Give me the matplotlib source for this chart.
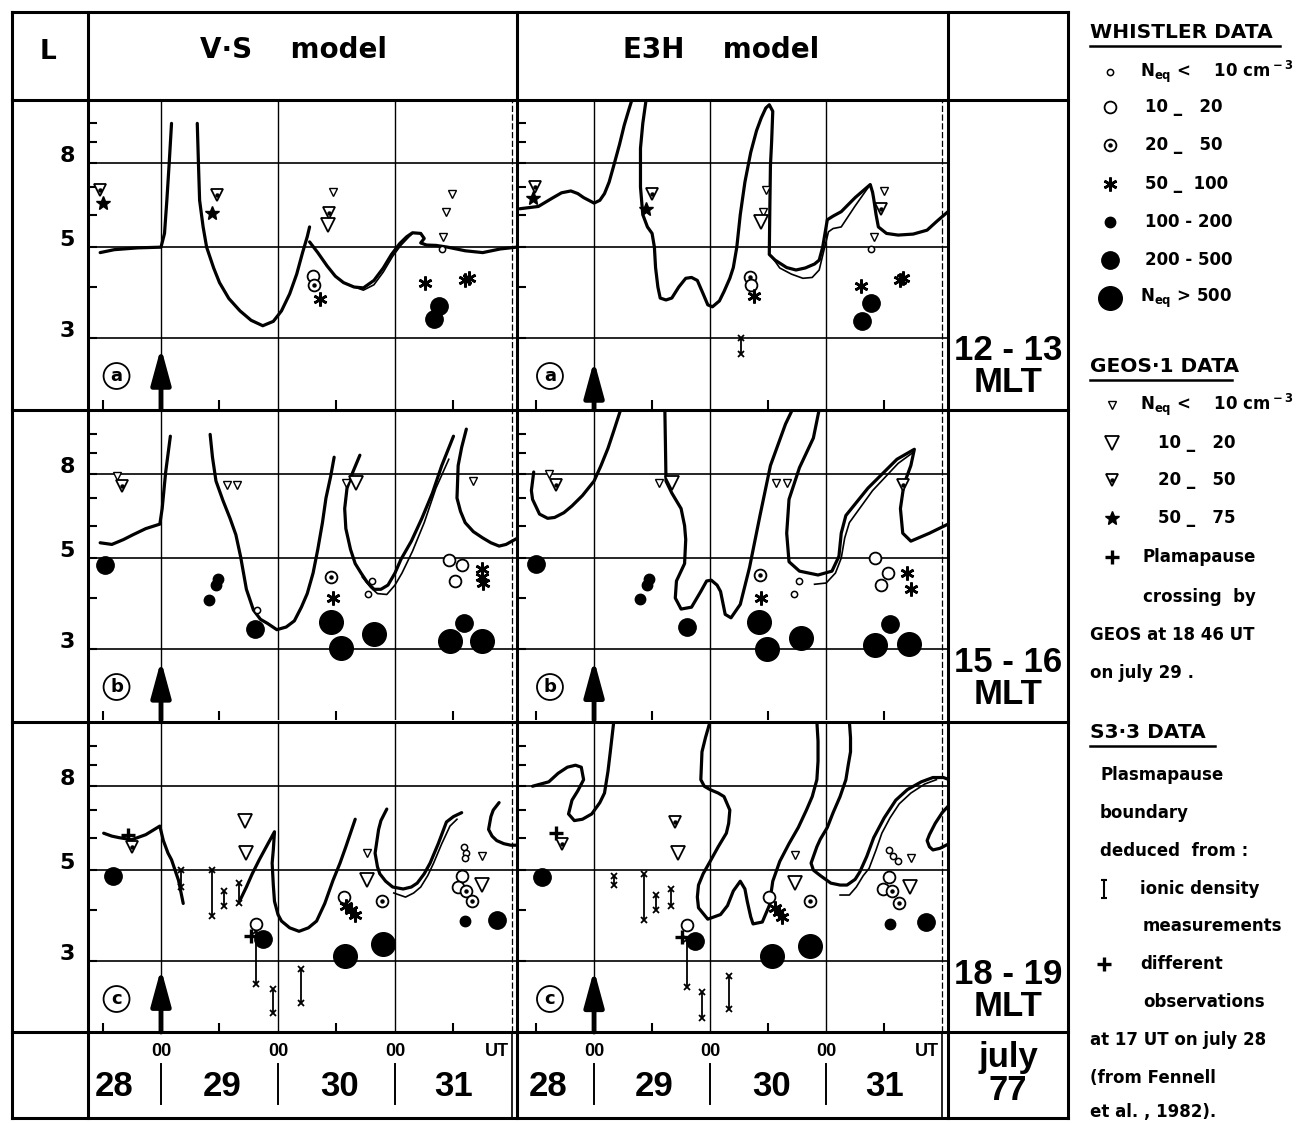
"""Plasmapause position: V-S and E3H models vs whistler, GEOS-1 and S3-3 data, 28-31 July 1977."""

import matplotlib

matplotlib.use("Agg")
import matplotlib.pyplot as plt
from matplotlib.ticker import NullFormatter, NullLocator
from matplotlib.transforms import blended_transform_factory

plt.rcParams["font.family"] = ["DejaVu Sans"]
plt.rcParams["mathtext.fontset"] = "custom"
plt.rcParams["mathtext.rm"] = "DejaVu Sans:bold"
plt.rcParams["mathtext.bf"] = "DejaVu Sans:bold"

# =========================
# axes / labels
# =========================
L_MIN, L_MAX = 2.02, 11.4
L_TICKS = [3, 4, 5, 6, 7, 8, 9, 10]
L_GRID = [3, 5, 8]
L_LABELS = ["8", "5", "3"]
HALF_DAYS = [0.5, 1.5, 2.5, 3.5]
DAY_LINES = [1, 2, 3]
DAY_NAMES = ["28", "29", "30", "31"]
DAY_NAME_POS = [0.6, 1.52, 2.53, 3.5]
MODEL_NAMES = ["V·S    model", "E3H    model"]
MLT_NAMES = ["12 - 13", "15 - 16", "18 - 19"]
ROW_LETTERS = ["a", "b", "c"]

# =========================
# row a : 12-13 MLT
# =========================
VS_A_CURVES = [
    [(0.48, 4.85), (0.6, 4.93), (0.8, 4.98), (1.0, 5.0), (1.03, 5.4), (1.05, 6.5), (1.07, 8.0), (1.09, 10.0)],
    [(1.31, 10.0), (1.32, 8.0), (1.33, 6.5), (1.36, 5.6), (1.39, 5.0), (1.45, 4.45), (1.50, 4.1), (1.58, 3.75),
     (1.675, 3.5), (1.77, 3.32), (1.87, 3.22), (1.96, 3.3), (2.03, 3.5), (2.10, 3.85), (2.16, 4.3), (2.21, 4.85),
     (2.25, 5.3), (2.27, 5.6)],
    [(2.27, 5.15), (2.34, 4.85), (2.42, 4.5), (2.49, 4.25), (2.56, 4.1), (2.65, 4.0), (2.73, 3.98), (2.82, 4.15),
     (2.90, 4.45), (2.97, 4.8), (3.04, 5.1), (3.10, 5.3), (3.15, 5.42), (3.22, 5.4), (3.25, 5.25), (3.22, 5.12),
     (3.27, 5.06), (3.35, 5.05), (3.45, 5.0), (3.6, 4.9), (3.75, 4.85), (3.9, 4.95), (4.04, 5.0)],
]
VS_A_THIN = [
    [(2.60, 4.05), (2.73, 3.93), (2.82, 4.05), (2.90, 4.35), (2.98, 4.75), (3.05, 5.05), (3.12, 5.3), (3.15, 5.4)],
]
VS_A_POINTS = [
    ("g20", 0.48, 6.9), ("g50", 0.50, 6.4), ("g20", 1.48, 6.7), ("g50", 1.44, 6.05),
    ("g0", 2.47, 6.8), ("g20", 2.44, 6.05), ("g10", 2.43, 5.65),
    ("g0", 3.49, 6.75), ("g0", 3.44, 6.1), ("g0", 3.41, 5.3), ("w0", 3.40, 4.95),
    ("w10", 2.30, 4.25), ("w20", 2.31, 4.05), ("w50", 2.36, 3.75),
    ("w50", 3.26, 4.1), ("w50", 3.60, 4.15), ("w50", 3.63, 4.2),
    ("w200", 3.38, 3.6), ("w200", 3.33, 3.35),
]
VS_A_BARS = []

E3_A_CURVES = [
    [(0.36, 6.2), (0.52, 6.28), (0.64, 6.58), (0.72, 6.78), (0.80, 6.85), (0.86, 6.75), (0.91, 6.6), (1.0, 6.4),
     (1.05, 6.5), (1.09, 6.75), (1.13, 7.2), (1.17, 7.9), (1.22, 8.9), (1.26, 9.9), (1.30, 10.8), (1.33, 11.5)],
    [(1.45, 11.5), (1.42, 10.0), (1.40, 8.7), (1.40, 7.0), (1.42, 6.0), (1.46, 5.6), (1.50, 5.4), (1.52, 5.0),
     (1.53, 4.46), (1.55, 4.0), (1.57, 3.76), (1.62, 3.72), (1.67, 3.76), (1.73, 4.0), (1.79, 4.2), (1.84, 4.22),
     (1.89, 4.15), (1.94, 3.85), (1.98, 3.62), (2.02, 3.58), (2.08, 3.7), (2.12, 3.9), (2.17, 4.2), (2.20, 4.46),
     (2.23, 5.0), (2.26, 6.0), (2.30, 7.2), (2.35, 8.5), (2.40, 9.6), (2.44, 10.3), (2.48, 10.9), (2.51, 11.1),
     (2.54, 10.7), (2.53, 9.0), (2.52, 7.9), (2.515, 6.3), (2.51, 4.8), (2.56, 4.65), (2.66, 4.46), (2.74, 4.4),
     (2.82, 4.45), (2.90, 4.55), (2.94, 4.65), (2.97, 5.0), (2.99, 5.4), (3.01, 5.83), (3.06, 5.95), (3.13, 6.1),
     (3.25, 6.6), (3.38, 7.1), (3.40, 6.8), (3.41, 6.55), (3.43, 6.0), (3.45, 5.6), (3.52, 5.4), (3.62, 5.35),
     (3.75, 5.38), (3.87, 5.5), (3.96, 5.8), (4.05, 6.1)],
]
E3_A_THIN = [
    [(2.53, 4.75), (2.60, 4.45), (2.70, 4.3), (2.80, 4.2), (2.88, 4.22), (2.94, 4.4), (2.98, 4.9), (3.02, 5.45),
     (3.06, 5.55), (3.13, 5.6), (3.25, 6.3), (3.38, 7.1)],
]
E3_A_POINTS = [
    ("g20", 0.49, 7.0), ("g50", 0.47, 6.6), ("g20", 1.50, 6.75), ("g50", 1.45, 6.2),
    ("g0", 2.48, 6.9), ("g0", 2.46, 6.1), ("g10", 2.44, 5.75),
    ("w20", 2.34, 4.22), ("w10", 2.35, 4.05), ("w50", 2.38, 3.8),
    ("g0", 3.50, 6.85), ("g20", 3.47, 6.2), ("g0", 3.41, 5.3), ("w0", 3.39, 4.95),
    ("w50", 3.30, 4.02), ("w50", 3.64, 4.15), ("w50", 3.66, 4.2),
    ("w200", 3.39, 3.65), ("w200", 3.31, 3.3),
]
E3_A_BARS = [(2.27, 2.75, 3.0)]

# =========================
# row b : 15-16 MLT
# =========================
VS_B_CURVES = [
    [(0.48, 5.45), (0.58, 5.4), (0.68, 5.55), (0.76, 5.7), (0.87, 5.9), (0.99, 6.05), (1.01, 6.6), (1.04, 8.1),
     (1.08, 9.9)],
    [(1.42, 10.0), (1.44, 8.8), (1.47, 7.7), (1.53, 6.9), (1.59, 6.25), (1.64, 5.7), (1.68, 5.05), (1.73, 4.2),
     (1.79, 3.74), (1.85, 3.55), (1.91, 3.47), (1.99, 3.35), (2.07, 3.4), (2.14, 3.52), (2.20, 3.8), (2.25, 4.1),
     (2.30, 4.6), (2.34, 5.25), (2.38, 6.1), (2.41, 7.0), (2.45, 7.9), (2.48, 8.8)],
    [(2.70, 8.9), (2.64, 8.1), (2.59, 7.4), (2.57, 6.6), (2.58, 5.9), (2.62, 5.25), (2.66, 4.85), (2.71, 4.6),
     (2.76, 4.38), (2.82, 4.2), (2.88, 4.2), (2.94, 4.3), (3.0, 4.6), (3.05, 4.96), (3.14, 5.5), (3.23, 6.25),
     (3.32, 7.2), (3.40, 8.4), (3.50, 9.9)],
    [(3.61, 10.3), (3.57, 9.3), (3.54, 8.4), (3.53, 7.0), (3.56, 6.5), (3.60, 6.1), (3.67, 5.8), (3.75, 5.6),
     (3.82, 5.45), (3.89, 5.35), (3.95, 5.4), (4.0, 5.5), (4.05, 5.6)],
]
VS_B_THIN = [
    [(2.72, 4.5), (2.79, 4.25), (2.85, 4.1), (2.93, 4.08), (3.0, 4.3), (3.06, 4.6), (3.15, 5.2), (3.25, 6.1),
     (3.35, 7.4), (3.46, 8.7)],
]
VS_B_POINTS = [
    ("g0", 0.62, 7.9), ("g20", 0.67, 7.5), ("w200", 0.52, 4.8),
    ("g0", 1.56, 7.55), ("g0", 1.65, 7.55),
    ("w100", 1.49, 4.45), ("w100", 1.47, 4.3), ("w100", 1.41, 3.95),
    ("w0", 1.82, 3.75), ("w200", 1.80, 3.36),
    ("g0", 2.58, 7.6), ("g10", 2.67, 7.6), ("w20", 2.45, 4.5), ("w50", 2.47, 4.0),
    ("w500", 2.45, 3.5), ("w500", 2.54, 3.03), ("w500", 2.82, 3.27),
    ("w0", 2.80, 4.4), ("w0", 2.77, 4.1),
    ("g0", 3.67, 7.7), ("w10", 3.46, 4.95), ("w10", 3.57, 4.8), ("w10", 3.51, 4.4),
    ("w50", 3.74, 4.7), ("w50", 3.745, 4.5), ("w50", 3.75, 4.35),
    ("w200", 3.59, 3.48), ("w500", 3.47, 3.15), ("w500", 3.74, 3.15),
]
VS_B_BARS = []

E3_B_CURVES = [
    [(0.48, 8.1), (0.46, 7.3), (0.47, 6.95), (0.53, 6.4), (0.60, 6.25), (0.66, 6.28), (0.74, 6.45), (0.81, 6.7),
     (0.90, 7.1), (1.0, 7.7), (1.06, 8.4), (1.12, 9.25), (1.17, 10.2), (1.23, 11.5)],
    [(1.61, 11.5), (1.615, 9.5), (1.62, 7.7), (1.67, 7.2), (1.75, 6.6), (1.78, 6.0), (1.79, 5.55), (1.78, 4.85),
     (1.71, 4.4), (1.70, 4.0), (1.75, 3.76), (1.84, 3.8), (1.92, 4.15), (1.97, 4.4), (2.01, 4.42), (2.06, 4.3),
     (2.09, 4.15), (2.13, 3.65), (2.18, 3.58), (2.26, 3.86), (2.34, 4.75), (2.43, 6.35), (2.52, 8.4), (2.65, 10.6),
     (2.71, 11.5)],
    [(2.94, 11.5), (2.89, 9.8), (2.77, 8.3), (2.68, 6.95), (2.66, 5.75), (2.68, 4.9), (2.77, 4.65), (2.93, 4.55),
     (3.05, 4.65), (3.11, 5.05), (3.13, 5.75), (3.17, 6.35), (3.36, 7.4), (3.61, 8.7), (3.76, 9.2), (3.73, 8.4),
     (3.67, 7.55), (3.64, 6.6), (3.66, 5.75), (3.73, 5.5), (3.89, 5.75), (4.05, 6.05)],
]
E3_B_THIN = [
    [(2.90, 4.32), (3.0, 4.35), (3.08, 4.6), (3.13, 5.0), (3.16, 5.6), (3.20, 6.1), (3.40, 7.3), (3.62, 8.5),
     (3.74, 9.0)],
]
E3_B_POINTS = [
    ("g0", 0.61, 8.0), ("g20", 0.67, 7.55), ("w200", 0.50, 4.85),
    ("g0", 1.56, 7.6), ("g10", 1.67, 7.6),
    ("w100", 1.47, 4.45), ("w100", 1.46, 4.3), ("w100", 1.40, 3.98), ("w200", 1.80, 3.4),
    ("g0", 2.57, 7.6), ("g0", 2.66, 7.6), ("w20", 2.43, 4.55), ("w50", 2.44, 4.0),
    ("w500", 2.42, 3.5), ("w500", 2.49, 3.0), ("w500", 2.78, 3.2),
    ("w0", 2.77, 4.4), ("w0", 2.72, 4.1),
    ("g20", 3.66, 7.55), ("w10", 3.42, 5.0), ("w10", 3.53, 4.6), ("w10", 3.47, 4.3),
    ("w50", 3.70, 4.6), ("w50", 3.73, 4.2),
    ("w200", 3.55, 3.45), ("w500", 3.42, 3.08), ("w500", 3.71, 3.1),
]
E3_B_BARS = []

# =========================
# row c : 18-19 MLT
# =========================
VS_C_CURVES = [
    [(0.51, 6.15), (0.58, 6.05), (0.64, 6.0), (0.75, 5.93), (0.87, 6.1), (0.99, 6.4), (1.02, 5.9), (1.06, 5.5),
     (1.09, 5.3), (1.15, 4.72), (1.19, 4.15)],
    [(1.68, 4.25), (1.73, 4.55), (1.78, 4.9), (1.84, 5.3), (1.90, 5.7), (1.97, 6.2), (1.96, 5.6), (1.95, 5.2),
     (1.96, 4.6), (1.97, 4.2), (2.0, 3.9), (2.03, 3.76), (2.10, 3.62), (2.18, 3.55), (2.26, 3.62), (2.33, 3.76),
     (2.40, 4.15), (2.47, 4.72), (2.53, 5.2), (2.58, 5.7), (2.66, 6.65)],
    [(2.93, 7.04), (2.88, 6.6), (2.86, 6.28), (2.83, 5.5), (2.85, 5.1), (2.87, 4.9), (2.92, 4.7), (2.98, 4.55),
     (3.07, 4.5), (3.14, 4.55), (3.19, 4.65), (3.25, 4.9), (3.30, 5.2), (3.37, 5.8), (3.44, 6.55), (3.50, 6.75),
     (3.57, 6.9)],
    [(3.89, 7.3), (3.84, 7.0), (3.82, 6.75), (3.80, 6.28), (3.83, 6.05), (3.87, 5.9), (3.93, 5.8), (3.99, 5.75),
     (4.05, 5.75)],
]
VS_C_THIN = [
    [(2.99, 4.4), (3.09, 4.3), (3.16, 4.4), (3.22, 4.55), (3.28, 4.85), (3.33, 5.2), (3.40, 5.8), (3.47, 6.4),
     (3.53, 6.65)],
]
VS_C_POINTS = [
    ("plus", 0.72, 6.1), ("g20", 0.75, 5.7), ("w200", 0.59, 4.85),
    ("g10", 1.72, 6.6), ("g10", 1.73, 5.5),
    ("w10", 1.81, 3.7), ("plus", 1.77, 3.45), ("w200", 1.87, 3.4),
    ("w10", 2.56, 4.3), ("w50", 2.58, 4.1), ("w50", 2.62, 4.0), ("w50", 2.66, 3.9),
    ("g10", 2.76, 4.72), ("g0", 2.76, 5.5), ("w20", 2.89, 4.2),
    ("w500", 2.57, 3.1), ("w500", 2.90, 3.3),
    ("w0", 3.59, 5.7), ("w0", 3.61, 5.5), ("w0", 3.60, 5.35), ("g0", 3.74, 5.4),
    ("w10", 3.57, 4.85), ("w10", 3.54, 4.55), ("w20", 3.61, 4.46), ("w20", 3.66, 4.2),
    ("g10", 3.74, 4.6), ("w100", 3.60, 3.76), ("w200", 3.87, 3.78),
]
VS_C_BARS = [(1.17, 4.55, 5.0), (1.44, 3.86, 5.0), (1.54, 4.1, 4.46), (1.67, 4.15, 4.65),
             (1.81, 2.65, 3.55), (1.96, 2.25, 2.57), (2.20, 2.37, 2.88)]

E3_C_CURVES = [
    [(0.47, 8.0), (0.54, 8.1), (0.61, 8.2), (0.69, 8.6), (0.77, 8.9), (0.84, 9.0), (0.89, 8.9), (0.91, 8.3),
     (0.86, 7.8), (0.81, 7.4), (0.78, 6.85), (0.83, 6.6), (0.90, 6.65), (0.98, 6.85), (1.05, 7.3), (1.09, 7.7),
     (1.12, 8.7), (1.14, 9.7), (1.17, 11.5)],
    [(2.0, 11.5), (1.96, 10.5), (1.93, 9.7), (1.92, 8.3), (1.95, 8.0), (2.0, 7.85), (2.07, 7.7), (2.12, 7.55),
     (2.17, 7.0), (2.16, 6.5), (2.14, 6.15), (2.07, 5.7), (2.0, 5.25), (1.94, 4.9), (1.90, 4.6), (1.89, 4.3),
     (1.90, 4.05), (1.98, 3.8), (2.09, 3.9), (2.15, 4.1), (2.20, 4.45), (2.26, 4.7), (2.30, 4.5), (2.32, 4.2),
     (2.35, 3.85), (2.37, 3.7), (2.45, 3.74), (2.51, 4.1), (2.54, 4.7), (2.60, 5.25), (2.68, 5.8), (2.76, 6.35),
     (2.83, 7.0), (2.88, 7.55), (2.92, 8.3), (2.93, 9.2), (2.93, 10.3), (2.92, 11.5)],
    [(3.20, 11.5), (3.21, 10.5), (3.21, 9.7), (3.19, 9.0), (3.17, 8.3), (3.12, 7.55), (3.06, 6.9), (3.01, 6.35),
     (2.95, 5.95), (2.92, 5.7), (2.87, 5.2), (2.89, 5.0), (2.95, 4.85), (3.04, 4.65), (3.12, 4.6), (3.18, 4.6),
     (3.25, 4.75), (3.29, 4.95), (3.35, 5.4), (3.41, 6.0), (3.50, 6.7), (3.60, 7.4), (3.70, 7.85), (3.82, 8.2),
     (3.92, 8.4), (4.01, 8.4), (4.06, 8.3)],
    [(4.06, 7.2), (4.0, 6.9), (3.94, 6.5), (3.89, 6.1), (3.87, 5.9), (3.89, 5.7), (3.92, 5.6), (3.98, 5.65),
     (4.06, 5.8)],
]
E3_C_THIN = [
    [(3.12, 4.35), (3.20, 4.35), (3.26, 4.55), (3.32, 4.85), (3.37, 5.05), (3.43, 5.6), (3.48, 6.15), (3.55, 6.7),
     (3.63, 7.25), (3.73, 7.7), (3.85, 8.1), (3.95, 8.3)],
]
E3_C_POINTS = [
    ("plus", 0.67, 6.15), ("g20", 0.72, 5.8), ("w200", 0.55, 4.8),
    ("g20", 1.70, 6.55), ("g10", 1.72, 5.5),
    ("w10", 1.80, 3.68), ("plus", 1.76, 3.43), ("w200", 1.87, 3.37),
    ("w10", 2.51, 4.3), ("w50", 2.56, 4.05), ("w50", 2.59, 3.95), ("w50", 2.62, 3.85),
    ("g0", 2.73, 5.45), ("g10", 2.73, 4.65), ("w20", 2.86, 4.2),
    ("w500", 2.53, 3.1), ("w500", 2.86, 3.27),
    ("w0", 3.54, 5.6), ("w0", 3.58, 5.4), ("w0", 3.62, 5.25), ("g0", 3.73, 5.35),
    ("w10", 3.54, 4.8), ("w10", 3.49, 4.5), ("w20", 3.57, 4.45), ("w20", 3.63, 4.15),
    ("g10", 3.72, 4.55), ("w100", 3.55, 3.7), ("w200", 3.86, 3.74),
]
E3_C_BARS = [(1.17, 4.6, 4.85), (1.43, 3.78, 4.9), (1.53, 4.0, 4.35), (1.66, 4.1, 4.5),
             (1.80, 2.6, 3.4), (1.93, 2.19, 2.53), (2.16, 2.3, 2.77)]

ARROW_TIPS = [[2.85, 2.65], [2.82, 2.83], [2.88, 2.86]]

# =========================
# legend text
# =========================
WHISTLER_KEYS = ["w0", "w10", "w20", "w50", "w100", "w200", "w500"]
WHISTLER_TEXT = [r"N$_{\rm eq}$ <    10 cm$^{\rm -3}$", "10 _   20", "20 _   50", "50 _  100",
                 "100 - 200", "200 - 500", r"N$_{\rm eq}$ > 500"]
GEOS_KEYS = ["g0", "g10", "g20", "g50", "plus"]
GEOS_TEXT = [r"N$_{\rm eq}$ <    10 cm$^{\rm -3}$", "10 _   20", "20 _   50", "50 _   75", "Plamapause"]
GEOS_NOTE = ["crossing  by", "GEOS at 18 46 UT", "on july 29 ."]
S3_NOTE = ["Plasmapause", "boundary", "deduced  from :", "ionic density", "measurements",
           "different", "observations", "at 17 UT on july 28", "(from Fennell", "et al. , 1982)."]

# =========================
# layout (pixels of the 1300 x 1123 page)
# =========================
W, H = 1300, 1123
ROW_TOPS = [100, 411, 723]
ROW_H = 309
COL_X = [(88, 429), (517, 431)]
COL_XLIM = [(0.376, 4.043), (0.336, 4.05)]

STYLE = {
    "w0": dict(marker="o", ms=4.5, mfc="white", mec="k", mew=1.1),
    "w10": dict(marker="o", ms=8.5, mfc="white", mec="k", mew=1.3),
    "w20": dict(marker="o", ms=8.5, mfc="white", mec="k", mew=1.3),
    "w50": dict(marker=(6, 2, 0), ms=10, mec="k", mew=1.9),
    "w100": dict(marker="o", ms=7.5, mfc="k", mec="k"),
    "w200": dict(marker="o", ms=12.5, mfc="k", mec="k"),
    "w500": dict(marker="o", ms=17, mfc="k", mec="k"),
    "g0": dict(marker="v", ms=5.5, mfc="white", mec="k", mew=1.0),
    "g10": dict(marker="v", ms=9.5, mfc="white", mec="k", mew=1.3),
    "g20": dict(marker="v", ms=9, mfc="white", mec="k", mew=1.3),
    "g50": dict(marker="*", ms=10, mfc="k", mec="k"),
    "plus": dict(marker="+", ms=10, mec="k", mew=2.4),
}
DOTTED = {"w20", "g20"}

fig = plt.figure(figsize=(W / 100, H / 100), dpi=100)
bg = fig.add_axes([0, 0, 1, 1], zorder=0)
bg.set_xlim(0, W)
bg.set_ylim(H, 0)
bg.axis("off")


def px_axes(x0, y0, w, h):
    return fig.add_axes([x0 / W, 1 - (y0 + h) / H, w / W, h / H], zorder=1)


def draw_symbol(ax, key, x, y, **extra):
    ax.plot([x], [y], ls="none", zorder=5, **STYLE[key], **extra)
    if key in DOTTED:
        ax.plot([x], [y], ls="none", marker="o", ms=2.2, color="k", zorder=6, **extra)


def draw_panel(ax, xlim, curves, thin, points, bars, tip, letter):
    ax.set_xlim(*xlim)
    ax.set_yscale("log")
    ax.set_ylim(L_MIN, L_MAX)
    ax.set_facecolor("none")
    for s in ax.spines.values():
        s.set_visible(False)
    ax.set_yticks(L_TICKS)
    ax.yaxis.set_major_formatter(NullFormatter())
    ax.yaxis.set_minor_locator(NullLocator())
    ax.yaxis.set_minor_formatter(NullFormatter())
    ax.set_xticks(HALF_DAYS)
    ax.set_xticklabels([])
    ax.tick_params(axis="both", direction="in", length=6.5, width=1.5, colors="k")
    ax.tick_params(axis="y", left=True, right=False)
    ax.tick_params(axis="x", bottom=True, top=False)

    for L in L_GRID:
        ax.axhline(L, color="k", lw=1.2, zorder=2)
    for d in DAY_LINES:
        ax.axvline(d, color="k", lw=1.0, zorder=2)
    ax.axvline(4.0, color="k", lw=0.9, ls=(0, (5, 2)), zorder=2)

    for c in curves:
        ax.plot([p[0] for p in c], [p[1] for p in c], color="k", lw=2.3,
                solid_capstyle="round", solid_joinstyle="round", zorder=4)
    for c in thin:
        ax.plot([p[0] for p in c], [p[1] for p in c], color="k", lw=1.2, zorder=4)
    for d, lo, hi in bars:
        ax.plot([d, d], [lo, hi], color="k", lw=1.3, zorder=4)
        ax.plot([d, d], [lo, hi], ls="none", marker="x", ms=4, mew=1.3, color="k", zorder=4)
    for key, d, L in points:
        draw_symbol(ax, key, d, L)

    ax.annotate("", xy=(1.0, tip), xytext=(1.0, L_MIN),
                arrowprops=dict(arrowstyle="-|>,head_length=1.1,head_width=0.3", lw=3.5, color="k",
                                shrinkA=0, shrinkB=0, mutation_scale=20), zorder=6)
    ax.text(0.62, 2.43, letter, ha="center", va="center", fontsize=13, fontweight="bold",
            bbox=dict(boxstyle="circle,pad=0.22", fc="white", ec="k", lw=1.3), zorder=6)


PANEL_DATA = [
    [(VS_A_CURVES, VS_A_THIN, VS_A_POINTS, VS_A_BARS), (E3_A_CURVES, E3_A_THIN, E3_A_POINTS, E3_A_BARS)],
    [(VS_B_CURVES, VS_B_THIN, VS_B_POINTS, VS_B_BARS), (E3_B_CURVES, E3_B_THIN, E3_B_POINTS, E3_B_BARS)],
    [(VS_C_CURVES, VS_C_THIN, VS_C_POINTS, VS_C_BARS), (E3_C_CURVES, E3_C_THIN, E3_C_POINTS, E3_C_BARS)],
]

bottom_axes = []
for r, top in enumerate(ROW_TOPS):
    for c, (x0, w) in enumerate(COL_X):
        ax = px_axes(x0, top, w, ROW_H)
        curves, thin, points, bars = PANEL_DATA[r][c]
        draw_panel(ax, COL_XLIM[c], curves, thin, points, bars, ARROW_TIPS[r][c], ROW_LETTERS[r])
        if c == 0:
            for L, lab in zip(L_GRID[::-1], L_LABELS):
                ax.annotate(lab, xy=(0, L), xycoords=("axes fraction", "data"), xytext=(-15, 5),
                            textcoords="offset points", ha="center", va="center",
                            fontsize=16, fontweight="bold")
        if r == 2:
            bottom_axes.append(ax)

# table frame
LW = 2.2
for x in [12, 88, 517, 948, 1068]:
    bg.plot([x, x], [12, 1118], color="k", lw=LW, solid_capstyle="projecting")
for y in [12, 99.5, 410, 721.5, 1032, 1118]:
    bg.plot([12, 1068], [y, y], color="k", lw=LW, solid_capstyle="projecting")

# header
bg.text(48, 52, "L", ha="center", va="center", fontsize=19, fontweight="bold")
bg.text(294, 50, MODEL_NAMES[0], ha="center", va="center", fontsize=20, fontweight="bold")
bg.text(721, 50, MODEL_NAMES[1], ha="center", va="center", fontsize=20, fontweight="bold")

# MLT column
for top, name in zip(ROW_TOPS, MLT_NAMES):
    bg.text(1008, top + 251, name, ha="center", va="center", fontsize=25, fontweight="bold",
            family=["Liberation Sans"])
    bg.text(1008, top + 283, "MLT", ha="center", va="center", fontsize=25, fontweight="bold",
            family=["Liberation Sans"])
bg.text(1008, 1057, "july", ha="center", va="center", fontsize=25, fontweight="bold", family=["Liberation Sans"])
bg.text(1008, 1090, "77", ha="center", va="center", fontsize=25, fontweight="bold", family=["Liberation Sans"])

# footer: UT hours and days, tied to the panel x scales
for ax in bottom_axes:
    tr = blended_transform_factory(ax.transData, bg.transData)
    for d in DAY_LINES:
        bg.text(d, 1052, "00", transform=tr, ha="center", va="center", fontsize=13, fontweight="bold",
                family=["Liberation Sans"])
        bg.plot([d, d], [1064, 1104], transform=tr, color="k", lw=1.4)
    bg.plot([4.0, 4.0], [1032, 1118], transform=tr, color="k", lw=1.2)
    bg.text(3.87, 1052, "UT", transform=tr, ha="center", va="center", fontsize=13, fontweight="bold",
            family=["Liberation Sans"])
    for pos, name in zip(DAY_NAME_POS, DAY_NAMES):
        bg.text(pos, 1086, name, transform=tr, ha="center", va="center", fontsize=25, fontweight="bold",
                family=["Liberation Sans"])

# legend
LEG_FS = 12


def heading(y, text, x1):
    bg.text(1090, y, text, ha="left", va="center", fontsize=14.5, fontweight="bold")
    bg.plot([1090, x1], [y + 13, y + 13], color="k", lw=1.8)


heading(33, "WHISTLER DATA", 1280)
for i, (key, text) in enumerate(zip(WHISTLER_KEYS, WHISTLER_TEXT)):
    y = [72, 107, 145, 184, 222, 260, 298][i]
    draw_symbol(bg, key, 1110, y)
    tx = 1140 if text.startswith("N") else (1158 if len(text) < 9 else 1145)
    bg.text(tx, y, text, ha="left", va="center", fontsize=LEG_FS, fontweight="bold")

heading(367, "GEOS·1 DATA", 1232)
for i, (key, text) in enumerate(zip(GEOS_KEYS, GEOS_TEXT)):
    y = [405, 443, 480, 518, 557][i]
    draw_symbol(bg, key, 1112, y)
    tx = 1140 if text.startswith("N") else (1143 if key == "plus" else 1158)
    bg.text(tx, y, text, ha="left", va="center", fontsize=LEG_FS, fontweight="bold")
for (x, y), text in zip([(1143, 597), (1090, 635), (1090, 673)], GEOS_NOTE):
    bg.text(x, y, text, ha="left", va="center", fontsize=LEG_FS, fontweight="bold")

heading(733, "S3·3 DATA", 1215)
S3_POS = [(1100, 775), (1100, 813), (1100, 851), (1140, 889), (1143, 926), (1140, 964), (1143, 1002),
          (1090, 1040), (1090, 1078), (1090, 1112)]
for (x, y), text in zip(S3_POS, S3_NOTE):
    bg.text(x, y, text, ha="left", va="center", fontsize=LEG_FS, fontweight="bold")
bg.plot([1104, 1104], [880, 898], color="k", lw=1.5)
bg.plot([1104, 1104], [880, 898], ls="none", marker="_", ms=5, mew=1.5, color="k")
draw_symbol(bg, "plus", 1104, 964)

fig.savefig("out.png", dpi=100)
